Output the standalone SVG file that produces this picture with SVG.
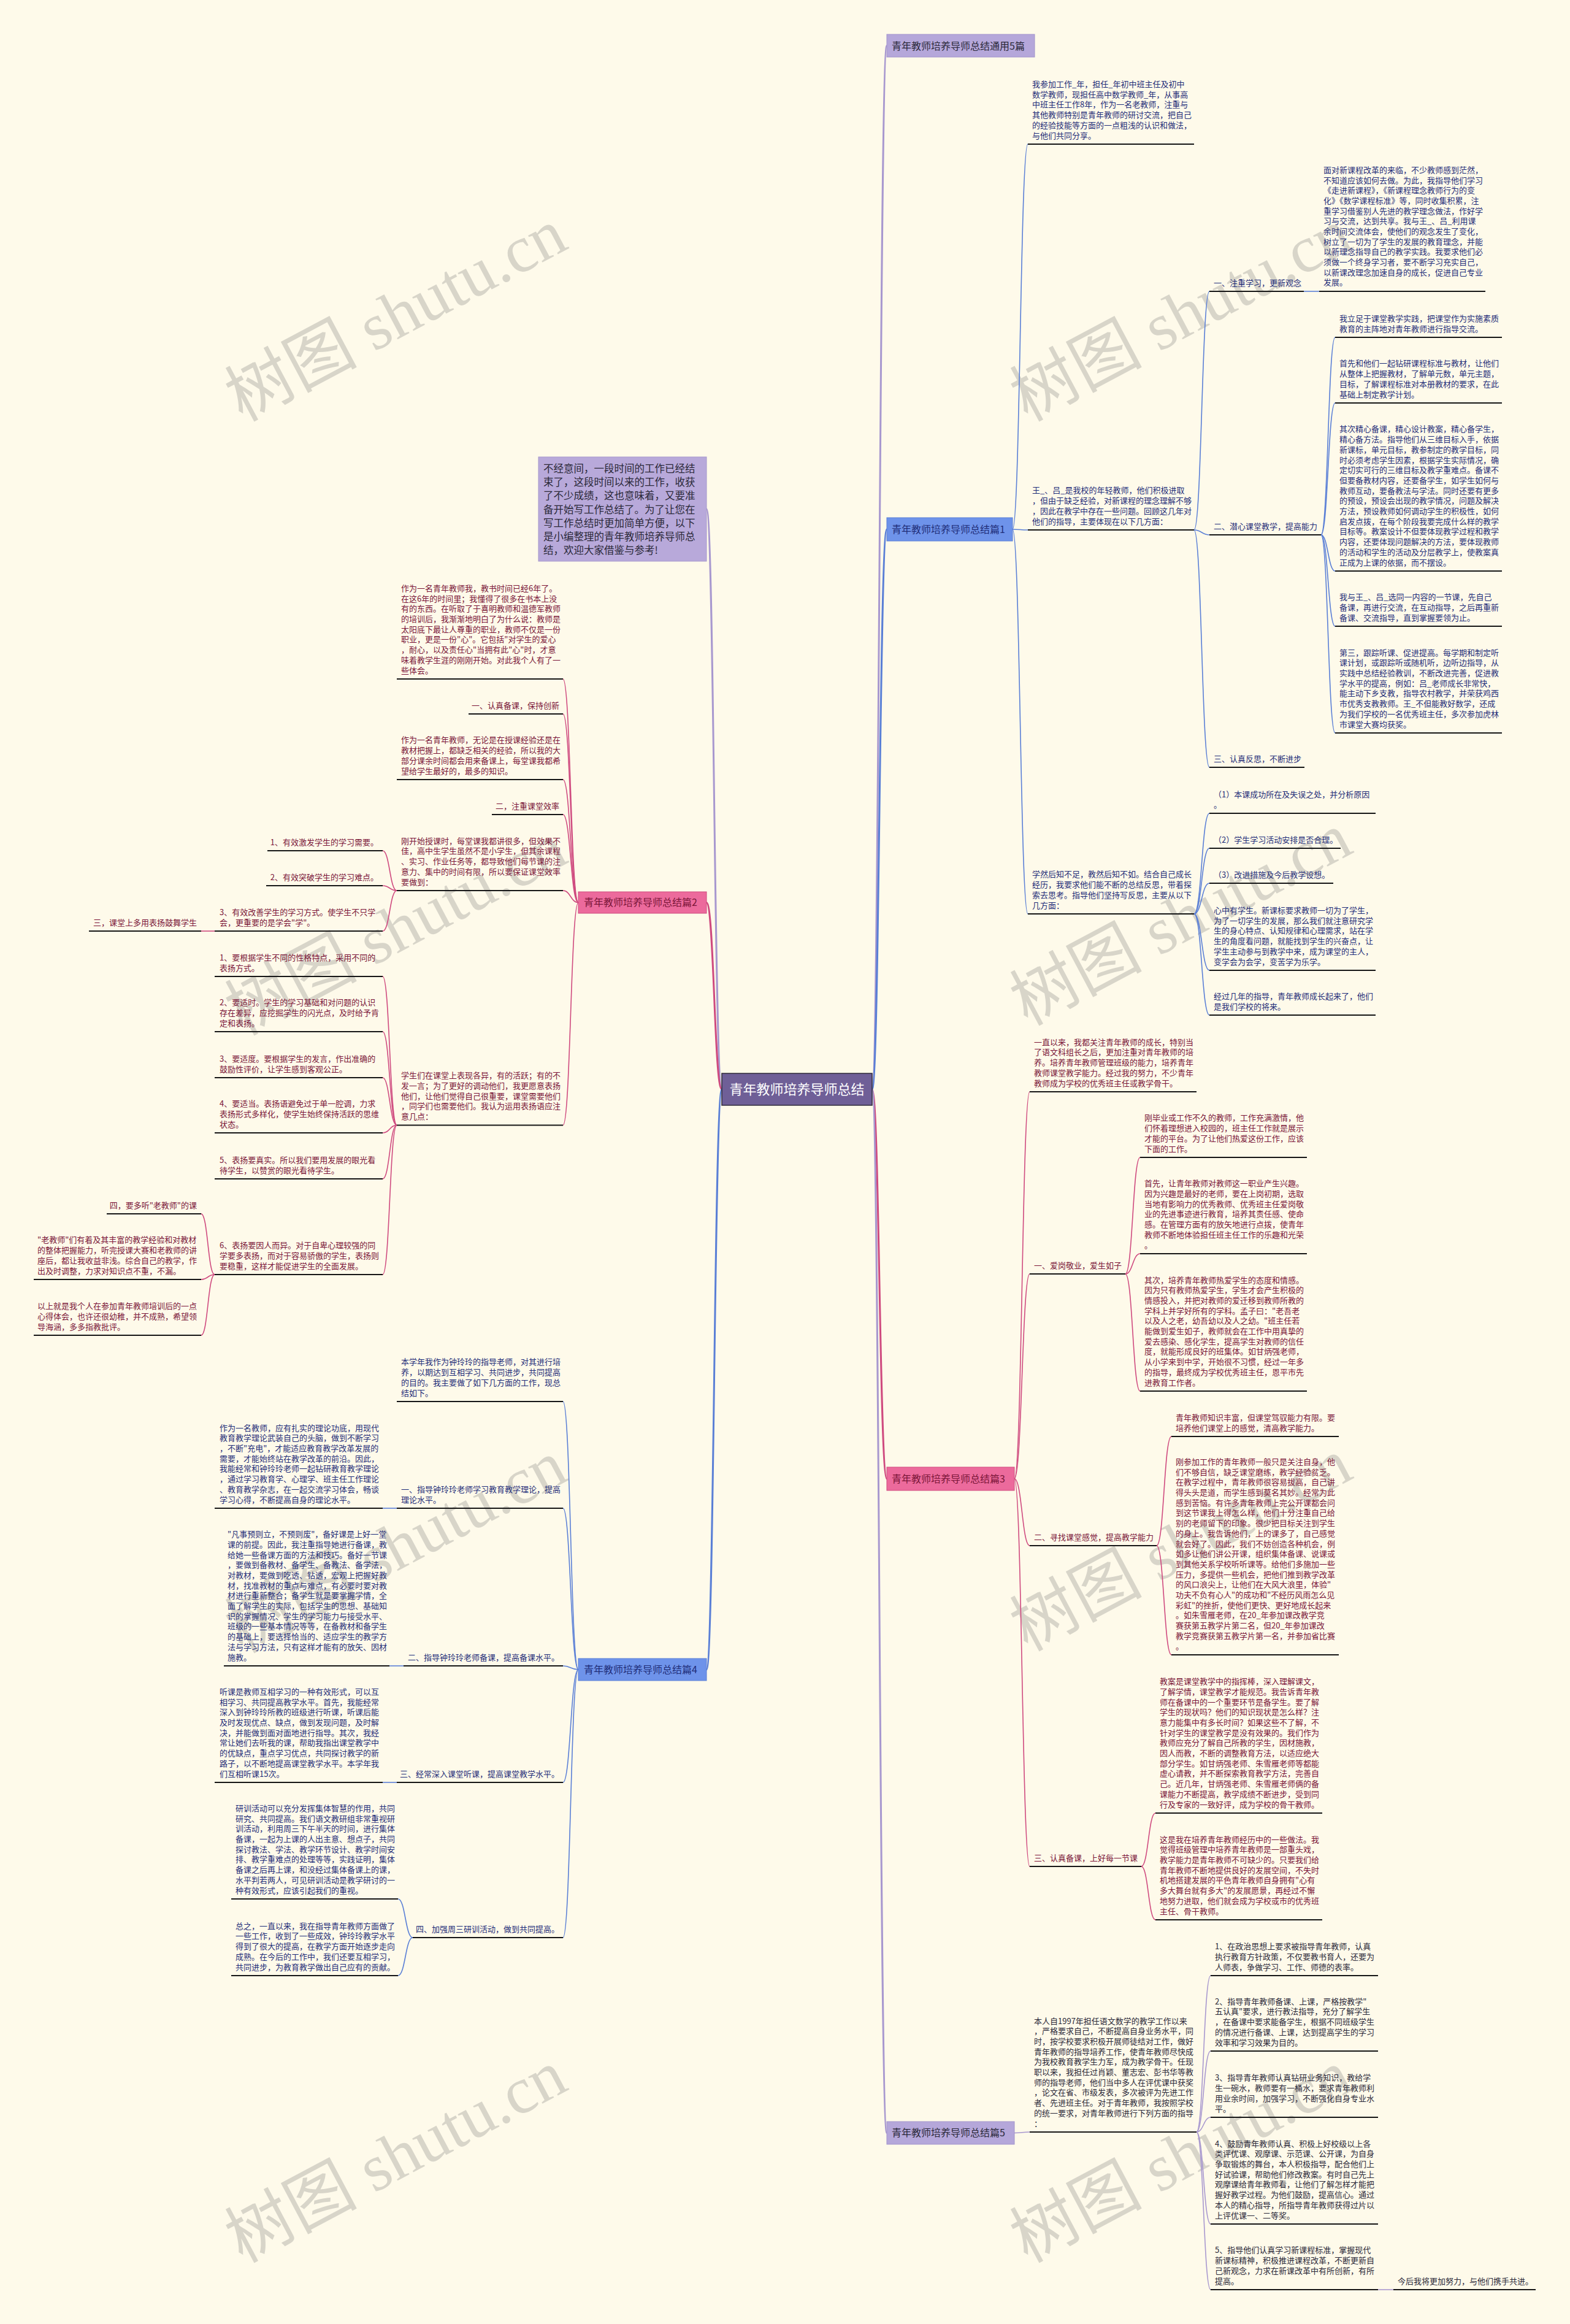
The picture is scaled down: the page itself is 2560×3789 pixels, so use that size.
<svg xmlns="http://www.w3.org/2000/svg" width="2560" height="3789" viewBox="0 0 2560 3789">
<style>
.t{font-family:"Noto Sans CJK SC","Noto Sans",sans-serif;font-size:13px}
.b{fill:#1f2d78}
.p{fill:#7a1538}
.u{fill:#2a2838}
.ul{stroke:#161616;stroke-width:2.2;fill:none}
.cb{stroke:#5a7fd6;stroke-width:1.6;fill:none}
.cp{stroke:#cf4a7f;stroke-width:1.6;fill:none}
.cu{stroke:#a898cf;stroke-width:1.6;fill:none}
.m{stroke-width:3}
.nt{font-family:"Noto Sans CJK SC","Noto Sans",sans-serif;font-size:16px}
.wm{font-family:"Liberation Serif","Noto Sans CJK SC",serif;font-size:108px;fill:#777;opacity:.28}
</style>
<rect width="2560" height="3789" fill="#fefaea"/>
<g id="watermarks">
<text class="wm" text-anchor="middle" transform="translate(646 515) rotate(-28)" y="35">树图 shutu.cn</text>
<text class="wm" text-anchor="middle" transform="translate(646 1516) rotate(-28)" y="35">树图 shutu.cn</text>
<text class="wm" text-anchor="middle" transform="translate(646 2523) rotate(-28)" y="35">树图 shutu.cn</text>
<text class="wm" text-anchor="middle" transform="translate(646 3517) rotate(-28)" y="35">树图 shutu.cn</text>
<text class="wm" text-anchor="middle" transform="translate(1926 515) rotate(-28)" y="35">树图 shutu.cn</text>
<text class="wm" text-anchor="middle" transform="translate(1926 1500) rotate(-28)" y="35">树图 shutu.cn</text>
<text class="wm" text-anchor="middle" transform="translate(1926 2520) rotate(-28)" y="35">树图 shutu.cn</text>
<text class="wm" text-anchor="middle" transform="translate(1926 3517) rotate(-28)" y="35">树图 shutu.cn</text>
</g>
<g id="connectors">
<path class="cu m" d="M1422 1776C1434 1776 1434 74.5 1446 74.5"/>
<path class="cb m" d="M1422 1776C1434 1776 1434 863 1446 863"/>
<path class="cp m" d="M1422 1776C1434 1776 1434 2411 1446 2411"/>
<path class="cu m" d="M1422 1776C1434 1776 1434 3477.5 1446 3477.5"/>
<path class="cu m" d="M1177 1776C1164.5 1776 1164.5 830 1152 830"/>
<path class="cp m" d="M1177 1776C1164.5 1776 1164.5 1471.5 1152 1471.5"/>
<path class="cb m" d="M1177 1776C1164.5 1776 1164.5 2722 1152 2722"/>
<path class="cb" d="M1651 863C1663.5 863 1663.5 235 1676 235"/>
<path class="cb" d="M1651 863C1663.5 863 1663.5 864 1676 864"/>
<path class="cb" d="M1651 863C1663.5 863 1663.5 1490 1676 1490"/>
<path class="cb" d="M1947 864C1959.5 864 1959.5 475 1972 475"/>
<path class="cb" d="M1947 864C1959.5 864 1959.5 872 1972 872"/>
<path class="cb" d="M1947 864C1959.5 864 1959.5 1251 1972 1251"/>
<path class="cb" d="M2126 475H2151"/>
<path class="cb" d="M2154 872C2165.5 872 2165.5 550 2177 550"/>
<path class="cb" d="M2154 872C2165.5 872 2165.5 657 2177 657"/>
<path class="cb" d="M2154 872C2165.5 872 2165.5 931 2177 931"/>
<path class="cb" d="M2154 872C2165.5 872 2165.5 1021 2177 1021"/>
<path class="cb" d="M2154 872C2165.5 872 2165.5 1195 2177 1195"/>
<path class="cb" d="M1947 1490C1959.5 1490 1959.5 1326 1972 1326"/>
<path class="cb" d="M1947 1490C1959.5 1490 1959.5 1383 1972 1383"/>
<path class="cb" d="M1947 1490C1959.5 1490 1959.5 1440 1972 1440"/>
<path class="cb" d="M1947 1490C1959.5 1490 1959.5 1582 1972 1582"/>
<path class="cb" d="M1947 1490C1959.5 1490 1959.5 1655 1972 1655"/>
<path class="cp" d="M1654 2411C1666.5 2411 1666.5 1780 1679 1780"/>
<path class="cp" d="M1654 2411C1666.5 2411 1666.5 2077 1679 2077"/>
<path class="cp" d="M1654 2411C1666.5 2411 1666.5 2520 1679 2520"/>
<path class="cp" d="M1654 2411C1666.5 2411 1666.5 3043 1679 3043"/>
<path class="cp" d="M1835 2077C1847 2077 1847 1887 1859 1887"/>
<path class="cp" d="M1835 2077C1847 2077 1847 2044 1859 2044"/>
<path class="cp" d="M1835 2077C1847 2077 1847 2268 1859 2268"/>
<path class="cp" d="M1886 2520C1898 2520 1898 2342 1910 2342"/>
<path class="cp" d="M1886 2520C1898 2520 1898 2698 1910 2698"/>
<path class="cp" d="M1861 3043C1872.5 3043 1872.5 2956 1884 2956"/>
<path class="cp" d="M1861 3043C1872.5 3043 1872.5 3130 1884 3130"/>
<path class="cu" d="M1654 3477.5C1666.5 3477.5 1666.5 3476 1679 3476"/>
<path class="cu" d="M1951 3476C1962.5 3476 1962.5 3221 1974 3221"/>
<path class="cu" d="M1951 3476C1962.5 3476 1962.5 3344 1974 3344"/>
<path class="cu" d="M1951 3476C1962.5 3476 1962.5 3452 1974 3452"/>
<path class="cu" d="M1951 3476C1962.5 3476 1962.5 3626 1974 3626"/>
<path class="cu" d="M1951 3476C1962.5 3476 1962.5 3733 1974 3733"/>
<path class="cu" d="M2247 3733H2272"/>
<path class="cp" d="M943 1471.5C930.5 1471.5 930.5 1107 918 1107"/>
<path class="cp" d="M943 1471.5C930.5 1471.5 930.5 1164 918 1164"/>
<path class="cp" d="M943 1471.5C930.5 1471.5 930.5 1271 918 1271"/>
<path class="cp" d="M943 1471.5C930.5 1471.5 930.5 1328 918 1328"/>
<path class="cp" d="M943 1471.5C930.5 1471.5 930.5 1452 918 1452"/>
<path class="cp" d="M943 1471.5C930.5 1471.5 930.5 1834.5 918 1834.5"/>
<path class="cp" d="M647 1452C635.5 1452 635.5 1387 624 1387"/>
<path class="cp" d="M647 1452C635.5 1452 635.5 1444 624 1444"/>
<path class="cp" d="M647 1452C635.5 1452 635.5 1518 624 1518"/>
<path class="cp" d="M350 1518H328"/>
<path class="cp" d="M647 1834.5C635.5 1834.5 635.5 1592 624 1592"/>
<path class="cp" d="M647 1834.5C635.5 1834.5 635.5 1682 624 1682"/>
<path class="cp" d="M647 1834.5C635.5 1834.5 635.5 1757 624 1757"/>
<path class="cp" d="M647 1834.5C635.5 1834.5 635.5 1847 624 1847"/>
<path class="cp" d="M647 1834.5C635.5 1834.5 635.5 1922 624 1922"/>
<path class="cp" d="M647 1834.5C635.5 1834.5 635.5 2078 624 2078"/>
<path class="cp" d="M350 2078C339 2078 339 1979 328 1979"/>
<path class="cp" d="M350 2078C339 2078 339 2086 328 2086"/>
<path class="cp" d="M350 2078C339 2078 339 2177 328 2177"/>
<path class="cb" d="M943 2722C930.5 2722 930.5 2285 918 2285"/>
<path class="cb" d="M943 2722C930.5 2722 930.5 2459 918 2459"/>
<path class="cb" d="M943 2722C930.5 2722 930.5 2716 918 2716"/>
<path class="cb" d="M943 2722C930.5 2722 930.5 2906 918 2906"/>
<path class="cb" d="M943 2722C930.5 2722 930.5 3159 918 3159"/>
<path class="cb" d="M647 2459H624"/>
<path class="cb" d="M658 2716H635"/>
<path class="cb" d="M647 2906H624"/>
<path class="cb" d="M673 3159C661 3159 661 3096 649 3096"/>
<path class="cb" d="M673 3159C661 3159 661 3221 649 3221"/>
</g>
<g id="root">
<rect x="1177" y="1750" width="245" height="52" fill="#6f5f97" stroke="#2e2a3a" stroke-width="1.5"/>
<text class="nt" x="1299.5" y="1784" text-anchor="middle" font-size="22" fill="#ffffff" style="font-size:22px">青年教师培养导师总结</text>
</g>
<g id="intro">
<rect x="878" y="745" width="274" height="170" fill="#b8a9da" stroke="#a698cc" stroke-width="1"/>
<text class="t u" style="font-size:16.5px" x="886" y="770"><tspan x="886">不经意间，一段时间的工作已经结</tspan><tspan x="886" dy="22.2">束了，这段时间以来的工作，收获</tspan><tspan x="886" dy="22.2">了不少成绩，这也意味着，又要准</tspan><tspan x="886" dy="22.2">备开始写工作总结了。为了让您在</tspan><tspan x="886" dy="22.2">写工作总结时更加简单方便，以下</tspan><tspan x="886" dy="22.2">是小编整理的青年教师培养导师总</tspan><tspan x="886" dy="22.2">结，欢迎大家借鉴与参考!</tspan></text>
</g>
<g id="b0">
<rect x="1446" y="56" width="241" height="37" fill="#b5a7da" stroke="#a193cb" stroke-width="1"/>
<text class="nt u" x="1454" y="80.5">青年教师培养导师总结通用5篇</text>
</g>
<g id="b1">
<rect x="1446" y="844" width="205" height="38" fill="#6e93ea" stroke="#5a7fd6" stroke-width="1"/>
<text class="nt b" x="1454" y="869">青年教师培养导师总结篇1</text>
</g>
<g id="b1-a1">
<text class="t b" x="1683" y="142"><tspan x="1683">我参加工作_年，担任_年初中班主任及初中</tspan><tspan x="1683" dy="16.7">数学教师，现担任高中数学教师_年，从事高</tspan><tspan x="1683" dy="16.7">中班主任工作8年，作为一名老教师，注重与</tspan><tspan x="1683" dy="16.7">其他教师特别是青年教师的研讨交流，把自己</tspan><tspan x="1683" dy="16.7">的经验技能等方面的一点粗浅的认识和做法，</tspan><tspan x="1683" dy="16.7">与他们共同分享。</tspan></text>
<line class="ul" x1="1676" y1="235" x2="1947" y2="235"/>
</g>
<g id="b1-a2">
<text class="t b" x="1683" y="804.4"><tspan x="1683">王_、吕_是我校的年轻教师，他们积极进取</tspan><tspan x="1683" dy="16.7">，但由于缺乏经验，对新课程的理念理解不够</tspan><tspan x="1683" dy="16.7">，因此在教学中存在一些问题。回顾这几年对</tspan><tspan x="1683" dy="16.7">他们的指导，主要体现在以下几方面：</tspan></text>
<line class="ul" x1="1676" y1="864" x2="1947" y2="864"/>
</g>
<g id="b1-a2-1">
<text class="t b" x="1979" y="465.5">一、注重学习，更新观念</text>
<line class="ul" x1="1972" y1="475" x2="2126" y2="475"/>
</g>
<g id="b1-a2-1-1">
<text class="t b" x="2158" y="281.8"><tspan x="2158">面对新课程改革的来临，不少教师感到茫然，</tspan><tspan x="2158" dy="16.7">不知道应该如何去做。为此，我指导他们学习</tspan><tspan x="2158" dy="16.7">《走进新课程》，《新课程理念教师行为的变</tspan><tspan x="2158" dy="16.7">化》《数学课程标准》等，同时收集积累，注</tspan><tspan x="2158" dy="16.7">重学习借鉴别人先进的教学理念做法，作好学</tspan><tspan x="2158" dy="16.7">习与交流，达到共享。我与王_、吕_利用课</tspan><tspan x="2158" dy="16.7">余时间交流体会，使他们的观念发生了变化，</tspan><tspan x="2158" dy="16.7">树立了一切为了学生的发展的教育理念，并能</tspan><tspan x="2158" dy="16.7">以新理念指导自己的教学实践。我要求他们必</tspan><tspan x="2158" dy="16.7">须做一个终身学习者，要不断学习充实自己，</tspan><tspan x="2158" dy="16.7">以新课改理念加速自身的成长，促进自己专业</tspan><tspan x="2158" dy="16.7">发展。</tspan></text>
<line class="ul" x1="2151" y1="475" x2="2422" y2="475"/>
</g>
<g id="b1-a2-2">
<text class="t b" x="1979" y="862.5">二、潜心课堂教学，提高能力</text>
<line class="ul" x1="1972" y1="872" x2="2154" y2="872"/>
</g>
<g id="b1-a2-2-1">
<text class="t b" x="2184" y="523.8"><tspan x="2184">我立足于课堂教学实践，把课堂作为实施素质</tspan><tspan x="2184" dy="16.7">教育的主阵地对青年教师进行指导交流。</tspan></text>
<line class="ul" x1="2177" y1="550" x2="2449" y2="550"/>
</g>
<g id="b1-a2-2-2">
<text class="t b" x="2184" y="597.4"><tspan x="2184">首先和他们一起钻研课程标准与教材，让他们</tspan><tspan x="2184" dy="16.7">从整体上把握教材，了解单元数，单元主题，</tspan><tspan x="2184" dy="16.7">目标，了解课程标准对本册教材的要求，在此</tspan><tspan x="2184" dy="16.7">基础上制定教学计划。</tspan></text>
<line class="ul" x1="2177" y1="657" x2="2449" y2="657"/>
</g>
<g id="b1-a2-2-3">
<text class="t b" x="2184" y="704.4"><tspan x="2184">其次精心备课，精心设计教案，精心备学生，</tspan><tspan x="2184" dy="16.7">精心备方法。指导他们从三维目标入手，依据</tspan><tspan x="2184" dy="16.7">新课标，单元目标，教参制定的教学目标，同</tspan><tspan x="2184" dy="16.7">时必须考虑学生因素，根据学生实际情况，确</tspan><tspan x="2184" dy="16.7">定切实可行的三维目标及教学重难点。备课不</tspan><tspan x="2184" dy="16.7">但要备教材内容，还要备学生，如学生如何与</tspan><tspan x="2184" dy="16.7">教师互动，要备教法与学法。同时还要有更多</tspan><tspan x="2184" dy="16.7">的预设，预设会出现的教学情况，问题及解决</tspan><tspan x="2184" dy="16.7">方法，预设教师如何调动学生的积极性，如何</tspan><tspan x="2184" dy="16.7">启发点拨，在每个阶段我要完成什么样的教学</tspan><tspan x="2184" dy="16.7">目标等。教案设计不但要体现教学过程和教学</tspan><tspan x="2184" dy="16.7">内容，还要体现问题解决的方法，要体现教师</tspan><tspan x="2184" dy="16.7">的活动和学生的活动及分层教学上，使教案真</tspan><tspan x="2184" dy="16.7">正成为上课的依据，而不摆设。</tspan></text>
<line class="ul" x1="2177" y1="931" x2="2449" y2="931"/>
</g>
<g id="b1-a2-2-4">
<text class="t b" x="2184" y="978.1"><tspan x="2184">我与王_、吕_选同一内容的一节课，先自己</tspan><tspan x="2184" dy="16.7">备课，再进行交流，在互动指导，之后再重新</tspan><tspan x="2184" dy="16.7">备课、交流指导，直到掌握要领为止。</tspan></text>
<line class="ul" x1="2177" y1="1021" x2="2449" y2="1021"/>
</g>
<g id="b1-a2-2-5">
<text class="t b" x="2184" y="1068.6"><tspan x="2184">第三，跟踪听课、促进提高。每学期和制定听</tspan><tspan x="2184" dy="16.7">课计划，或跟踪听或随机听，边听边指导，从</tspan><tspan x="2184" dy="16.7">实践中总结经验教训，不断改进完善，促进教</tspan><tspan x="2184" dy="16.7">学水平的提高，例如：吕_老师成长非常快，</tspan><tspan x="2184" dy="16.7">能主动下乡支教，指导农村教学，并荣获鸡西</tspan><tspan x="2184" dy="16.7">市优秀支教教师。王_不但能教好数学，还成</tspan><tspan x="2184" dy="16.7">为我们学校的一名优秀班主任，多次参加虎林</tspan><tspan x="2184" dy="16.7">市课堂大赛均获奖。</tspan></text>
<line class="ul" x1="2177" y1="1195" x2="2449" y2="1195"/>
</g>
<g id="b1-a2-3">
<text class="t b" x="1979" y="1241.5">三、认真反思，不断进步</text>
<line class="ul" x1="1972" y1="1251" x2="2127" y2="1251"/>
</g>
<g id="b1-a3">
<text class="t b" x="1683" y="1430.4"><tspan x="1683">学然后知不足，教然后知不如。结合自己成长</tspan><tspan x="1683" dy="16.7">经历，我要求他们能不断的总结反思，带着探</tspan><tspan x="1683" dy="16.7">索去思考。指导他们坚持写反思，主要从以下</tspan><tspan x="1683" dy="16.7">几方面：</tspan></text>
<line class="ul" x1="1676" y1="1490" x2="1947" y2="1490"/>
</g>
<g id="b1-a3-1">
<text class="t b" x="1979" y="1299.8"><tspan x="1979">（1）本课成功所在及失误之处，并分析原因</tspan><tspan x="1979" dy="16.7">。</tspan></text>
<line class="ul" x1="1972" y1="1326" x2="2243" y2="1326"/>
</g>
<g id="b1-a3-2">
<text class="t b" x="1979" y="1373.5">（2）学生学习活动安排是否合理。</text>
<line class="ul" x1="1972" y1="1383" x2="2186" y2="1383"/>
</g>
<g id="b1-a3-3">
<text class="t b" x="1979" y="1430.5">（3）改进措施及今后教学设想。</text>
<line class="ul" x1="1972" y1="1440" x2="2174" y2="1440"/>
</g>
<g id="b1-a3-4">
<text class="t b" x="1979" y="1489"><tspan x="1979">心中有学生。新课标要求教师一切为了学生，</tspan><tspan x="1979" dy="16.7">为了一切学生的发展，那么我们就注意研究学</tspan><tspan x="1979" dy="16.7">生的身心特点、认知规律和心理需求，站在学</tspan><tspan x="1979" dy="16.7">生的角度看问题，就能找到学生的兴奋点，让</tspan><tspan x="1979" dy="16.7">学生主动参与到教学中来，成为课堂的主人，</tspan><tspan x="1979" dy="16.7">变学会为会学，变苦学为乐学。</tspan></text>
<line class="ul" x1="1972" y1="1582" x2="2243" y2="1582"/>
</g>
<g id="b1-a3-5">
<text class="t b" x="1979" y="1628.8"><tspan x="1979">经过几年的指导，青年教师成长起来了，他们</tspan><tspan x="1979" dy="16.7">是我们学校的将来。</tspan></text>
<line class="ul" x1="1972" y1="1655" x2="2243" y2="1655"/>
</g>
<g id="b3">
<rect x="1446" y="2392" width="208" height="38" fill="#ec6a9c" stroke="#cf4a7f" stroke-width="1"/>
<text class="nt p" x="1454" y="2417">青年教师培养导师总结篇3</text>
</g>
<g id="b3-1">
<text class="t p" x="1686" y="1703.7"><tspan x="1686">一直以来，我都关注青年教师的成长，特别当</tspan><tspan x="1686" dy="16.7">了语文科组长之后，更加注重对青年教师的培</tspan><tspan x="1686" dy="16.7">养。培养青年教师管理班级的能力，培养青年</tspan><tspan x="1686" dy="16.7">教师课堂教学能力。经过我的努力，不少青年</tspan><tspan x="1686" dy="16.7">教师成为学校的优秀班主任或教学骨干。</tspan></text>
<line class="ul" x1="1679" y1="1780" x2="1951" y2="1780"/>
</g>
<g id="b3-2">
<text class="t p" x="1686" y="2067.5">一、爱岗敬业，爱生如子</text>
<line class="ul" x1="1679" y1="2077" x2="1835" y2="2077"/>
</g>
<g id="b3-2-1">
<text class="t p" x="1866" y="1827.4"><tspan x="1866">刚毕业或工作不久的教师，工作充满激情，他</tspan><tspan x="1866" dy="16.7">们怀着理想进入校园的，班主任工作就是展示</tspan><tspan x="1866" dy="16.7">才能的平台。为了让他们热爱这份工作，应该</tspan><tspan x="1866" dy="16.7">下面的工作。</tspan></text>
<line class="ul" x1="1859" y1="1887" x2="2131" y2="1887"/>
</g>
<g id="b3-2-2">
<text class="t p" x="1866" y="1934.3"><tspan x="1866">首先，让青年教师对教师这一职业产生兴趣。</tspan><tspan x="1866" dy="16.7">因为兴趣是最好的老师，要在上岗初期，选取</tspan><tspan x="1866" dy="16.7">当地有影响力的优秀教师、优秀班主任爱岗敬</tspan><tspan x="1866" dy="16.7">业的先进事迹进行教育，培养其责任感、使命</tspan><tspan x="1866" dy="16.7">感。在管理方面有的放矢地进行点拨，使青年</tspan><tspan x="1866" dy="16.7">教师不断地体验担任班主任工作的乐趣和光荣</tspan><tspan x="1866" dy="16.7">。</tspan></text>
<line class="ul" x1="1859" y1="2044" x2="2131" y2="2044"/>
</g>
<g id="b3-2-3">
<text class="t p" x="1866" y="2091.5"><tspan x="1866">其次，培养青年教师热爱学生的态度和情感。</tspan><tspan x="1866" dy="16.7">因为只有教师热爱学生，学生才会产生积极的</tspan><tspan x="1866" dy="16.7">情感投入，并把对教师的爱迁移到教师所教的</tspan><tspan x="1866" dy="16.7">学科上并学好所有的学科。孟子曰："老吾老</tspan><tspan x="1866" dy="16.7">以及人之老，幼吾幼以及人之幼。"班主任若</tspan><tspan x="1866" dy="16.7">能做到爱生如子，教师就会在工作中用真挚的</tspan><tspan x="1866" dy="16.7">爱去感染、感化学生，提高学生对教师的信任</tspan><tspan x="1866" dy="16.7">度，就能形成良好的班集体。如甘炳强老师，</tspan><tspan x="1866" dy="16.7">从小学来到中学，开始很不习惯，经过一年多</tspan><tspan x="1866" dy="16.7">的指导，最终成为学校优秀班主任，恩平市先</tspan><tspan x="1866" dy="16.7">进教育工作者。</tspan></text>
<line class="ul" x1="1859" y1="2268" x2="2131" y2="2268"/>
</g>
<g id="b3-3">
<text class="t p" x="1686" y="2510.5">二、寻找课堂感觉，提高教学能力</text>
<line class="ul" x1="1679" y1="2520" x2="1886" y2="2520"/>
</g>
<g id="b3-3-1">
<text class="t p" x="1917" y="2315.8"><tspan x="1917">青年教师知识丰富，但课堂驾驭能力有限。要</tspan><tspan x="1917" dy="16.7">培养他们课堂上的感觉，清高教学能力。</tspan></text>
<line class="ul" x1="1910" y1="2342" x2="2183" y2="2342"/>
</g>
<g id="b3-3-2">
<text class="t p" x="1917" y="2387.9"><tspan x="1917">刚参加工作的青年教师一般只是关注自身，他</tspan><tspan x="1917" dy="16.7">们不够自信，缺乏课堂磨练，教学经验贫乏。</tspan><tspan x="1917" dy="16.7">在教学过程中，青年教师很容易拔高，自己讲</tspan><tspan x="1917" dy="16.7">得头头是道，而学生感到莫名其妙。经常为此</tspan><tspan x="1917" dy="16.7">感到苦恼。有许多青年教师上完公开课都会问</tspan><tspan x="1917" dy="16.7">到这节课我上得怎么样，他们十分注重自己给</tspan><tspan x="1917" dy="16.7">别的老师留下的印象。很少把目标关注到学生</tspan><tspan x="1917" dy="16.7">的身上。我告诉他们，上的课多了，自己感觉</tspan><tspan x="1917" dy="16.7">就会好了。因此，我们不妨创造各种机会，例</tspan><tspan x="1917" dy="16.7">如多让他们讲公开课，组织集体备课、说课或</tspan><tspan x="1917" dy="16.7">到其他关系学校听听课等。给他们多施加一些</tspan><tspan x="1917" dy="16.7">压力，多提供一些机会，把他们推到教学改革</tspan><tspan x="1917" dy="16.7">的风口浪尖上，让他们在大风大浪里，体验"</tspan><tspan x="1917" dy="16.7">功夫不负有心人"的成功和"不经历风雨怎么见</tspan><tspan x="1917" dy="16.7">彩虹"的挫折，使他们更快、更好地成长起来</tspan><tspan x="1917" dy="16.7">。如朱雪雁老师，在20_年参加课改教学竞</tspan><tspan x="1917" dy="16.7">赛获第五教学片第二名，但20_年参加课改</tspan><tspan x="1917" dy="16.7">教学竞赛获第五教学片第一名，并参加省比赛</tspan><tspan x="1917" dy="16.7">。</tspan></text>
<line class="ul" x1="1910" y1="2698" x2="2183" y2="2698"/>
</g>
<g id="b3-4">
<text class="t p" x="1686" y="3033.5">三、认真备课，上好每一节课</text>
<line class="ul" x1="1679" y1="3043" x2="1861" y2="3043"/>
</g>
<g id="b3-4-1">
<text class="t p" x="1891" y="2746.1"><tspan x="1891">教案是课堂教学中的指挥棒，深入理解课文，</tspan><tspan x="1891" dy="16.7">了解学情，课堂教学才能规范。我告诉青年教</tspan><tspan x="1891" dy="16.7">师在备课中的一个重要环节是备学生。要了解</tspan><tspan x="1891" dy="16.7">学生的现状吗？他们的知识现状是怎么样？注</tspan><tspan x="1891" dy="16.7">意力能集中有多长时间？如果这些不了解，不</tspan><tspan x="1891" dy="16.7">针对学生的课堂教学是没有效果的。我们作为</tspan><tspan x="1891" dy="16.7">教师应充分了解自己所教的学生，因材施教，</tspan><tspan x="1891" dy="16.7">因人而教，不断的调整教育方法，以适应绝大</tspan><tspan x="1891" dy="16.7">部分学生。如甘炳强老师、朱雪雁老师等都能</tspan><tspan x="1891" dy="16.7">虚心请教，并不断探索教育教学方法，完善自</tspan><tspan x="1891" dy="16.7">己。近几年，甘炳强老师、朱雪雁老师俩的备</tspan><tspan x="1891" dy="16.7">课能力不断提高，教学成绩不断进步，受到同</tspan><tspan x="1891" dy="16.7">行及专家的一致好评，成为学校的骨干教师。</tspan></text>
<line class="ul" x1="1884" y1="2956" x2="2156" y2="2956"/>
</g>
<g id="b3-4-2">
<text class="t p" x="1891" y="3003.6"><tspan x="1891">这是我在培养青年教师经历中的一些做法。我</tspan><tspan x="1891" dy="16.7">觉得班级管理中培养青年教师是一部重头戏，</tspan><tspan x="1891" dy="16.7">教学能力是青年教师不可缺少的。只要我们给</tspan><tspan x="1891" dy="16.7">青年教师不断地提供良好的发展空间，不失时</tspan><tspan x="1891" dy="16.7">机地搭建发展的平色青年教师自身拥有"心有</tspan><tspan x="1891" dy="16.7">多大舞台就有多大"的发展愿景，再经过不懈</tspan><tspan x="1891" dy="16.7">地努力进取，他们就会成为学校或市的优秀班</tspan><tspan x="1891" dy="16.7">主任、骨干教师。</tspan></text>
<line class="ul" x1="1884" y1="3130" x2="2156" y2="3130"/>
</g>
<g id="b5">
<rect x="1446" y="3459" width="208" height="37" fill="#b5a7da" stroke="#a193cb" stroke-width="1"/>
<text class="nt u" x="1454" y="3483">青年教师培养导师总结篇5</text>
</g>
<g id="b5-1">
<text class="t u" x="1686" y="3299.5"><tspan x="1686">本人自1997年担任语文数学的教学工作以来</tspan><tspan x="1686" dy="16.7">，严格要求自己，不断提高自身业务水平，同</tspan><tspan x="1686" dy="16.7">时，按学校要求积极开展师徒结对工作，做好</tspan><tspan x="1686" dy="16.7">青年教师的指导培养工作，使青年教师尽快成</tspan><tspan x="1686" dy="16.7">为我校教育教学生力军，成为教学骨干。任现</tspan><tspan x="1686" dy="16.7">职以来，我担任过肖颖、董志宏、彭书华等教</tspan><tspan x="1686" dy="16.7">师的指导老师，他们当中多人在评优课中获奖</tspan><tspan x="1686" dy="16.7">，论文在省、市级发表，多次被评为先进工作</tspan><tspan x="1686" dy="16.7">者、先进班主任。对于青年教师，我按照学校</tspan><tspan x="1686" dy="16.7">的统一要求，对青年教师进行下列方面的指导</tspan><tspan x="1686" dy="16.7">：</tspan></text>
<line class="ul" x1="1679" y1="3476" x2="1951" y2="3476"/>
</g>
<g id="b5-1-1">
<text class="t u" x="1981" y="3178.1"><tspan x="1981">1、在政治思想上要求被指导青年教师，认真</tspan><tspan x="1981" dy="16.7">执行教育方针政策，不仅要教书育人，还要为</tspan><tspan x="1981" dy="16.7">人师表，争做学习、工作、师德的表率。</tspan></text>
<line class="ul" x1="1974" y1="3221" x2="2247" y2="3221"/>
</g>
<g id="b5-1-2">
<text class="t u" x="1981" y="3267.7"><tspan x="1981">2、指导青年教师备课、上课，严格按教学"</tspan><tspan x="1981" dy="16.7">五认真"要求，进行教法指导，充分了解学生</tspan><tspan x="1981" dy="16.7">，在备课中要求能备学生，根据不同班级学生</tspan><tspan x="1981" dy="16.7">的情况进行备课、上课，达到提高学生的学习</tspan><tspan x="1981" dy="16.7">效率和学习效果为目的。</tspan></text>
<line class="ul" x1="1974" y1="3344" x2="2247" y2="3344"/>
</g>
<g id="b5-1-3">
<text class="t u" x="1981" y="3392.4"><tspan x="1981">3、指导青年教师认真钻研业务知识，教给学</tspan><tspan x="1981" dy="16.7">生一碗水，教师要有一桶水，要求青年教师利</tspan><tspan x="1981" dy="16.7">用业余时间，加强学习，不断强化自身专业水</tspan><tspan x="1981" dy="16.7">平。</tspan></text>
<line class="ul" x1="1974" y1="3452" x2="2247" y2="3452"/>
</g>
<g id="b5-1-4">
<text class="t u" x="1981" y="3499.6"><tspan x="1981">4、鼓励青年教师认真、积极上好校级以上各</tspan><tspan x="1981" dy="16.7">类评优课、观摩课、示范课、公开课，为自身</tspan><tspan x="1981" dy="16.7">争取锻炼的舞台，本人积极指导，配合他们上</tspan><tspan x="1981" dy="16.7">好试验课，帮助他们修改教案。有时自己先上</tspan><tspan x="1981" dy="16.7">观摩课给青年教师看，让他们了解怎样才能把</tspan><tspan x="1981" dy="16.7">握好教学过程。为他们鼓励，提高信心。通过</tspan><tspan x="1981" dy="16.7">本人的精心指导，所指导青年教师获得过片以</tspan><tspan x="1981" dy="16.7">上评优课一、二等奖。</tspan></text>
<line class="ul" x1="1974" y1="3626" x2="2247" y2="3626"/>
</g>
<g id="b5-1-5">
<text class="t u" x="1981" y="3673.4"><tspan x="1981">5、指导他们认真学习新课程标准，掌握现代</tspan><tspan x="1981" dy="16.7">新课标精神，积极推进课程改革，不断更新自</tspan><tspan x="1981" dy="16.7">己新观念，力求在新课改革中有所创新，有所</tspan><tspan x="1981" dy="16.7">提高。</tspan></text>
<line class="ul" x1="1974" y1="3733" x2="2247" y2="3733"/>
</g>
<g id="b5-1-5-1">
<text class="t u" x="2279" y="3723.5">今后我将更加努力，与他们携手共进。</text>
<line class="ul" x1="2272" y1="3733" x2="2504" y2="3733"/>
</g>
<g id="b2">
<rect x="943" y="1454" width="209" height="35" fill="#ec6a9c" stroke="#cf4a7f" stroke-width="1"/>
<text class="nt p" x="952" y="1477">青年教师培养导师总结篇2</text>
</g>
<g id="b2-1">
<text class="t p" x="654" y="963.9"><tspan x="654">作为一名青年教师我，教书时间已经6年了。</tspan><tspan x="654" dy="16.7">在这6年的时间里；我懂得了很多在书本上没</tspan><tspan x="654" dy="16.7">有的东西。在听取了于喜明教师和温德军教师</tspan><tspan x="654" dy="16.7">的培训后，我渐渐地明白了为什么说：教师是</tspan><tspan x="654" dy="16.7">太阳底下最让人尊重的职业，教师不仅是一份</tspan><tspan x="654" dy="16.7">职业，更是一份"心"。它包括"对学生的爱心</tspan><tspan x="654" dy="16.7">，耐心，以及责任心"当拥有此"心"时，才意</tspan><tspan x="654" dy="16.7">味着教学生涯的刚刚开始。对此我个人有了一</tspan><tspan x="654" dy="16.7">些体会。</tspan></text>
<line class="ul" x1="647" y1="1107" x2="918" y2="1107"/>
</g>
<g id="b2-2">
<text class="t p" x="912" y="1154.5" text-anchor="end">一、认真备课，保持创新</text>
<line class="ul" x1="764" y1="1164" x2="918" y2="1164"/>
</g>
<g id="b2-3">
<text class="t p" x="654" y="1211.4"><tspan x="654">作为一名青年教师，无论是在授课经验还是在</tspan><tspan x="654" dy="16.7">教材把握上，都缺乏相关的经验，所以我的大</tspan><tspan x="654" dy="16.7">部分课余时间都会用来备课上，每堂课我都希</tspan><tspan x="654" dy="16.7">望给学生最好的，最多的知识。</tspan></text>
<line class="ul" x1="647" y1="1271" x2="918" y2="1271"/>
</g>
<g id="b2-4">
<text class="t p" x="912" y="1318.5" text-anchor="end">二，注重课堂效率</text>
<line class="ul" x1="802" y1="1328" x2="918" y2="1328"/>
</g>
<g id="b2-5">
<text class="t p" x="654" y="1375.7"><tspan x="654">刚开始授课时，每堂课我都讲很多，但效果不</tspan><tspan x="654" dy="16.7">佳，高中生学生虽然不是小学生，但其余课程</tspan><tspan x="654" dy="16.7">、实习、作业任务等，都导致他们每节课的注</tspan><tspan x="654" dy="16.7">意力、集中的时间有限，所以要保证课堂效率</tspan><tspan x="654" dy="16.7">要做到：</tspan></text>
<line class="ul" x1="647" y1="1452" x2="918" y2="1452"/>
</g>
<g id="b2-5-1">
<text class="t p" x="617" y="1377.5" text-anchor="end">1、有效激发学生的学习需要。</text>
<line class="ul" x1="436" y1="1387" x2="624" y2="1387"/>
</g>
<g id="b2-5-2">
<text class="t p" x="617" y="1434.5" text-anchor="end">2、有效突破学生的学习难点。</text>
<line class="ul" x1="434" y1="1444" x2="624" y2="1444"/>
</g>
<g id="b2-5-3">
<text class="t p" x="358" y="1491.8"><tspan x="358">3、有效改善学生的学习方式。使学生不只学</tspan><tspan x="358" dy="16.7">会，更重要的是学会"学"。</tspan></text>
<line class="ul" x1="350" y1="1518" x2="624" y2="1518"/>
</g>
<g id="b2-5-3-1">
<text class="t p" x="321" y="1508.5" text-anchor="end">三，课堂上多用表扬鼓舞学生</text>
<line class="ul" x1="145" y1="1518" x2="328" y2="1518"/>
</g>
<g id="b2-6">
<text class="t p" x="654" y="1758.2"><tspan x="654">学生们在课堂上表现各异，有的活跃；有的不</tspan><tspan x="654" dy="16.7">发一言；为了更好的调动他们，我更愿意表扬</tspan><tspan x="654" dy="16.7">他们，让他们觉得自己很重要，课堂需要他们</tspan><tspan x="654" dy="16.7">，同学们也需要他们。我认为运用表扬语应注</tspan><tspan x="654" dy="16.7">意几点：</tspan></text>
<line class="ul" x1="647" y1="1834.5" x2="918" y2="1834.5"/>
</g>
<g id="b2-6-1">
<text class="t p" x="358" y="1565.8"><tspan x="358">1、要根据学生不同的性格特点，采用不同的</tspan><tspan x="358" dy="16.7">表扬方式。</tspan></text>
<line class="ul" x1="350" y1="1592" x2="624" y2="1592"/>
</g>
<g id="b2-6-2">
<text class="t p" x="358" y="1639.1"><tspan x="358">2、要适时。学生的学习基础和对问题的认识</tspan><tspan x="358" dy="16.7">存在差异，应挖掘学生的闪光点，及时给予肯</tspan><tspan x="358" dy="16.7">定和表扬。</tspan></text>
<line class="ul" x1="350" y1="1682" x2="624" y2="1682"/>
</g>
<g id="b2-6-3">
<text class="t p" x="358" y="1730.8"><tspan x="358">3、要适度。要根据学生的发言，作出准确的</tspan><tspan x="358" dy="16.7">鼓励性评价，让学生感到客观公正。</tspan></text>
<line class="ul" x1="350" y1="1757" x2="624" y2="1757"/>
</g>
<g id="b2-6-4">
<text class="t p" x="358" y="1804.1"><tspan x="358">4、要适当。表扬语避免过于单一腔调，力求</tspan><tspan x="358" dy="16.7">表扬形式多样化，使学生始终保持活跃的思维</tspan><tspan x="358" dy="16.7">状态。</tspan></text>
<line class="ul" x1="350" y1="1847" x2="624" y2="1847"/>
</g>
<g id="b2-6-5">
<text class="t p" x="358" y="1895.8"><tspan x="358">5、表扬要真实。所以我们要用发展的眼光看</tspan><tspan x="358" dy="16.7">待学生，以赞赏的眼光看待学生。</tspan></text>
<line class="ul" x1="350" y1="1922" x2="624" y2="1922"/>
</g>
<g id="b2-6-6">
<text class="t p" x="358" y="2035.1"><tspan x="358">6、表扬要因人而异。对于自卑心理较强的同</tspan><tspan x="358" dy="16.7">学要多表扬，而对于容易骄傲的学生，表扬则</tspan><tspan x="358" dy="16.7">要稳重，这样才能促进学生的全面发展。</tspan></text>
<line class="ul" x1="350" y1="2078" x2="624" y2="2078"/>
</g>
<g id="b2-6-6-1">
<text class="t p" x="321" y="1969.5" text-anchor="end">四，要多听"老教师"的课</text>
<line class="ul" x1="174" y1="1979" x2="328" y2="1979"/>
</g>
<g id="b2-6-6-2">
<text class="t p" x="61" y="2026.4"><tspan x="61">"老教师"们有着及其丰富的教学经验和对教材</tspan><tspan x="61" dy="16.7">的整体把握能力，听完授课大赛和老教师的讲</tspan><tspan x="61" dy="16.7">座后，都让我收益非浅。综合自己的教学，作</tspan><tspan x="61" dy="16.7">出及时调整，力求对知识点不重，不漏。</tspan></text>
<line class="ul" x1="55" y1="2086" x2="328" y2="2086"/>
</g>
<g id="b2-6-6-3">
<text class="t p" x="61" y="2134.1"><tspan x="61">以上就是我个人在参加青年教师培训后的一点</tspan><tspan x="61" dy="16.7">心得体会，也许还很幼稚，并不成熟，希望领</tspan><tspan x="61" dy="16.7">导海涵，多多指教批评。</tspan></text>
<line class="ul" x1="55" y1="2177" x2="328" y2="2177"/>
</g>
<g id="b4">
<rect x="943" y="2704" width="209" height="36" fill="#6e93ea" stroke="#5a7fd6" stroke-width="1"/>
<text class="nt b" x="952" y="2728">青年教师培养导师总结篇4</text>
</g>
<g id="b4-1">
<text class="t b" x="654" y="2225.4"><tspan x="654">本学年我作为钟玲玲的指导老师，对其进行培</tspan><tspan x="654" dy="16.7">养，以期达到互相学习、共同进步，共同提高</tspan><tspan x="654" dy="16.7">的目的。我主要做了如下几方面的工作，现总</tspan><tspan x="654" dy="16.7">结如下。</tspan></text>
<line class="ul" x1="647" y1="2285" x2="918" y2="2285"/>
</g>
<g id="b4-2">
<text class="t b" x="654" y="2432.8"><tspan x="654">一、指导钟玲玲老师学习教育教学理论，提高</tspan><tspan x="654" dy="16.7">理论水平。</tspan></text>
<line class="ul" x1="647" y1="2459" x2="918" y2="2459"/>
</g>
<g id="b4-2-1">
<text class="t b" x="358" y="2332.6"><tspan x="358">作为一名教师，应有扎实的理论功底，用现代</tspan><tspan x="358" dy="16.7">教育教学理论武装自己的头脑，做到不断学习</tspan><tspan x="358" dy="16.7">，不断"充电"，才能适应教育教学改革发展的</tspan><tspan x="358" dy="16.7">需要，才能始终站在教学改革的前沿。因此，</tspan><tspan x="358" dy="16.7">我能经常和钟玲玲老师一起钻研教育教学理论</tspan><tspan x="358" dy="16.7">，通过学习教育学、心理学、班主任工作理论</tspan><tspan x="358" dy="16.7">、教育教学杂志，在一起交流学习体会，畅谈</tspan><tspan x="358" dy="16.7">学习心得，不断提高自身的理论水平。</tspan></text>
<line class="ul" x1="350" y1="2459" x2="624" y2="2459"/>
</g>
<g id="b4-3">
<text class="t b" x="912" y="2706.5" text-anchor="end">二、指导钟玲玲老师备课，提高备课水平。</text>
<line class="ul" x1="658" y1="2716" x2="918" y2="2716"/>
</g>
<g id="b4-3-1">
<text class="t b" x="371" y="2506.1"><tspan x="371">"凡事预则立，不预则废"，备好课是上好一堂</tspan><tspan x="371" dy="16.7">课的前提。因此，我注重指导她进行备课，教</tspan><tspan x="371" dy="16.7">给她一些备课方面的方法和技巧。备好一节课</tspan><tspan x="371" dy="16.7">，要做到备教材、备学生、备教法、备学法，</tspan><tspan x="371" dy="16.7">对教材，要做到吃透、钻透，宏观上把握好教</tspan><tspan x="371" dy="16.7">材，找准教材的重点与难点，有必要时要对教</tspan><tspan x="371" dy="16.7">材进行重新整合；备学生就是要掌握学情，全</tspan><tspan x="371" dy="16.7">面了解学生的实际，包括学生的思想、基础知</tspan><tspan x="371" dy="16.7">识的掌握情况、学生的学习能力与接受水平、</tspan><tspan x="371" dy="16.7">班级的一些基本情况等等，在备教材和备学生</tspan><tspan x="371" dy="16.7">的基础上，要选择恰当的、适应学生的教学方</tspan><tspan x="371" dy="16.7">法与学习方法，只有这样才能有的放矢、因材</tspan><tspan x="371" dy="16.7">施教。</tspan></text>
<line class="ul" x1="365" y1="2716" x2="635" y2="2716"/>
</g>
<g id="b4-4">
<text class="t b" x="912" y="2896.5" text-anchor="end">三、经常深入课堂听课，提高课堂教学水平。</text>
<line class="ul" x1="647" y1="2906" x2="918" y2="2906"/>
</g>
<g id="b4-4-1">
<text class="t b" x="358" y="2762.9"><tspan x="358">听课是教师互相学习的一种有效形式，可以互</tspan><tspan x="358" dy="16.7">相学习、共同提高教学水平。首先，我能经常</tspan><tspan x="358" dy="16.7">深入到钟玲玲所教的班级进行听课，听课后能</tspan><tspan x="358" dy="16.7">及时发现优点、缺点，做到发现问题，及时解</tspan><tspan x="358" dy="16.7">决，并能做到面对面地进行指导。其次，我经</tspan><tspan x="358" dy="16.7">常让她们去听我的课，帮助我指出课堂教学中</tspan><tspan x="358" dy="16.7">的优缺点，重点学习优点，共同探讨教学的新</tspan><tspan x="358" dy="16.7">路子，以不断地提高课堂教学水平。本学年我</tspan><tspan x="358" dy="16.7">们互相听课15次。</tspan></text>
<line class="ul" x1="350" y1="2906" x2="624" y2="2906"/>
</g>
<g id="b4-5">
<text class="t b" x="912" y="3149.5" text-anchor="end">四、加强周三研训活动，做到共同提高。</text>
<line class="ul" x1="673" y1="3159" x2="918" y2="3159"/>
</g>
<g id="b4-5-1">
<text class="t b" x="384" y="2952.9"><tspan x="384">研训活动可以充分发挥集体智慧的作用，共同</tspan><tspan x="384" dy="16.7">研究、共同提高。我们语文教研组非常重视研</tspan><tspan x="384" dy="16.7">训活动，利用周三下午半天的时间，进行集体</tspan><tspan x="384" dy="16.7">备课，一起为上课的人出主意、想点子，共同</tspan><tspan x="384" dy="16.7">探讨教法、学法、教学环节设计、教学时间安</tspan><tspan x="384" dy="16.7">排、教学重难点的处理等等，实践证明，集体</tspan><tspan x="384" dy="16.7">备课之后再上课，和没经过集体备课上的课，</tspan><tspan x="384" dy="16.7">水平判若两人，可见研训活动是教学研讨的一</tspan><tspan x="384" dy="16.7">种有效形式，应该引起我们的重视。</tspan></text>
<line class="ul" x1="377" y1="3096" x2="649" y2="3096"/>
</g>
<g id="b4-5-2">
<text class="t b" x="384" y="3144.7"><tspan x="384">总之，一直以来，我在指导青年教师方面做了</tspan><tspan x="384" dy="16.7">一些工作，收到了一些成效，钟玲玲教学水平</tspan><tspan x="384" dy="16.7">得到了很大的提高，在教学方面开始逐步走向</tspan><tspan x="384" dy="16.7">成熟。在今后的工作中，我们还要互相学习，</tspan><tspan x="384" dy="16.7">共同进步，为教育教学做出自己应有的贡献。</tspan></text>
<line class="ul" x1="377" y1="3221" x2="649" y2="3221"/>
</g>
</svg>
